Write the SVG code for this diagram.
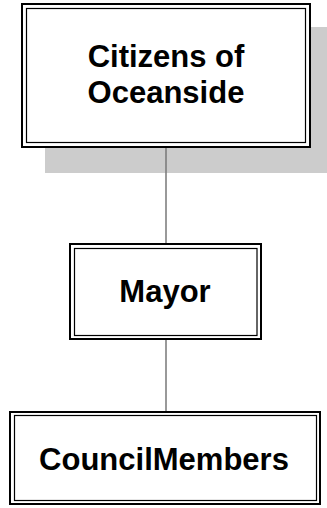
<svg xmlns="http://www.w3.org/2000/svg" width="327" height="508" viewBox="0 0 327 508">
  <style>
    .outer { fill: none; stroke: #000; stroke-width: 2; }
    .inner { fill: none; stroke: #000; stroke-width: 1.2; }
    .face { fill: #fff; }
    .label { font-family: "Liberation Sans", Arial, sans-serif; font-weight: bold; font-size: 31px; fill: #000; text-anchor: middle; }
    .link { stroke: #777; stroke-width: 1.5; fill: none; }
  </style>
  <rect width="327" height="508" fill="#fff"/>
  <!-- drop shadow behind the top box -->
  <rect x="45" y="27" width="282" height="146" fill="#cccccc"/>

  <g id="connectors">
    <line class="link" x1="166" y1="148" x2="166" y2="243"/>
    <line class="link" x1="166" y1="340" x2="166" y2="411"/>
  </g>

  <g id="citizens">
    <rect class="face" x="22" y="4" width="288" height="143"/>
    <rect class="outer" x="22" y="4" width="288" height="143"/>
    <rect class="inner" x="26.5" y="8.5" width="279" height="134"/>
    <text class="label" x="166" y="67">Citizens of</text>
    <text class="label" x="166" y="103">Oceanside</text>
  </g>

  <g id="mayor">
    <rect class="face" x="70" y="244" width="191" height="95"/>
    <rect class="outer" x="70" y="244" width="191" height="95"/>
    <rect class="inner" x="74.5" y="248.5" width="182.5" height="87"/>
    <text class="label" x="165" y="302">Mayor</text>
  </g>

  <g id="council">
    <rect class="face" x="10" y="412" width="310" height="92"/>
    <rect class="outer" x="10" y="412" width="310" height="92"/>
    <rect class="inner" x="14.5" y="415.5" width="302" height="85"/>
    <text class="label" x="164" y="470">CouncilMembers</text>
  </g>
</svg>
